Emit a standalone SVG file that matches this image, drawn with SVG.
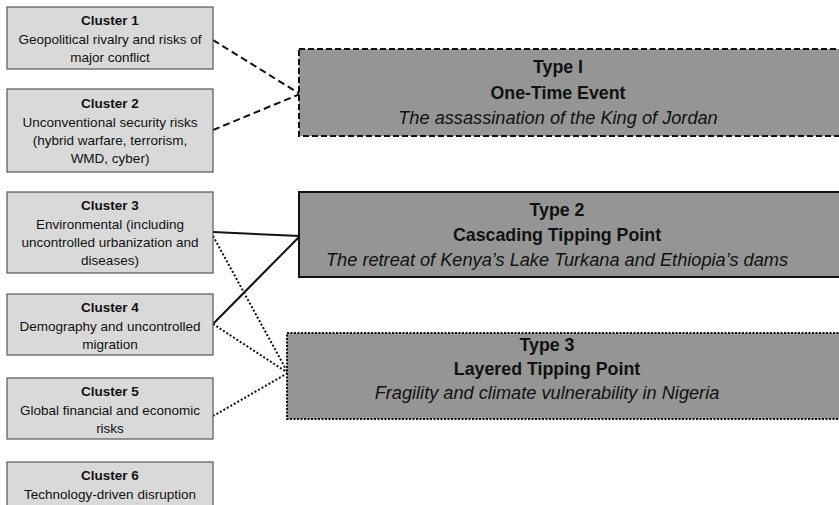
<svg xmlns="http://www.w3.org/2000/svg" width="839" height="505" viewBox="0 0 839 505">
<style>
.cl{fill:#d9d9d9;stroke:#555;stroke-width:1.2}
.ty{fill:#959595;stroke:#111;stroke-width:2}
.t{font-family:"Liberation Sans",Arial,sans-serif;font-size:13.5px;fill:#111;text-anchor:middle}
.b{font-weight:bold}
.T{font-family:"Liberation Sans",Arial,sans-serif;font-size:17.8px;fill:#111;text-anchor:middle}
.i{font-style:italic;font-size:18.2px}
.c{fill:none;stroke:#111;stroke-width:2}
</style>
<rect width="839" height="505" fill="#fff"/>
<g id="connectors">
<line class="c" x1="213" y1="40" x2="300" y2="94" stroke-dasharray="7,4"/>
<line class="c" x1="213" y1="130" x2="300" y2="94" stroke-dasharray="7,4"/>
<line class="c" x1="213" y1="232" x2="300" y2="236"/>
<line class="c" x1="213" y1="324" x2="300" y2="236"/>
<line class="c" x1="213" y1="236" x2="288" y2="373" stroke-dasharray="2,2"/>
<line class="c" x1="213" y1="324" x2="288" y2="373" stroke-dasharray="2,2"/>
<line class="c" x1="213" y1="416" x2="288" y2="373" stroke-dasharray="2,2"/>
</g>
<g id="cluster1">
<rect class="cl" x="7" y="7" width="206" height="62"/>
<text class="t b" x="110" y="25">Cluster 1</text>
<text class="t" x="110" y="44">Geopolitical rivalry and risks of</text>
<text class="t" x="110" y="62">major conflict</text>
</g>
<g id="cluster2">
<rect class="cl" x="7" y="89" width="206" height="83"/>
<text class="t b" x="110" y="108">Cluster 2</text>
<text class="t" x="110" y="127">Unconventional security risks</text>
<text class="t" x="110" y="145">(hybrid warfare, terrorism,</text>
<text class="t" x="110" y="163">WMD, cyber)</text>
</g>
<g id="cluster3">
<rect class="cl" x="7" y="192" width="206" height="81"/>
<text class="t b" x="110" y="210">Cluster 3</text>
<text class="t" x="110" y="229">Environmental (including</text>
<text class="t" x="110" y="247">uncontrolled urbanization and</text>
<text class="t" x="110" y="265">diseases)</text>
</g>
<g id="cluster4">
<rect class="cl" x="7" y="294" width="206" height="61"/>
<text class="t b" x="110" y="312">Cluster 4</text>
<text class="t" x="110" y="331">Demography and uncontrolled</text>
<text class="t" x="110" y="349">migration</text>
</g>
<g id="cluster5">
<rect class="cl" x="7" y="378" width="206" height="61"/>
<text class="t b" x="110" y="396">Cluster 5</text>
<text class="t" x="110" y="415">Global financial and economic</text>
<text class="t" x="110" y="433">risks</text>
</g>
<g id="cluster6">
<rect class="cl" x="7" y="462" width="206" height="60"/>
<text class="t b" x="110" y="480">Cluster 6</text>
<text class="t" x="110" y="499">Technology-driven disruption</text>
</g>
<g id="type1">
<rect class="ty" x="299" y="49" width="560" height="87" stroke-dasharray="6,3"/>
<text class="T b" x="558" y="73">Type I</text>
<text class="T b" x="558" y="99">One-Time Event</text>
<text class="T i" x="558" y="124">The assassination of the King of Jordan</text>
</g>
<g id="type2">
<rect class="ty" x="299" y="192" width="560" height="85"/>
<text class="T b" x="557" y="216">Type 2</text>
<text class="T b" x="557" y="241">Cascading Tipping Point</text>
<text class="T i" x="557" y="266">The retreat of Kenya’s Lake Turkana and Ethiopia’s dams</text>
</g>
<g id="type3">
<rect class="ty" x="287" y="333" width="572" height="86" stroke-dasharray="2,1.5"/>
<text class="T b" x="547" y="351">Type 3</text>
<text class="T b" x="547" y="375">Layered Tipping Point</text>
<text class="T i" x="547" y="399">Fragility and climate vulnerability in Nigeria</text>
</g>
</svg>
